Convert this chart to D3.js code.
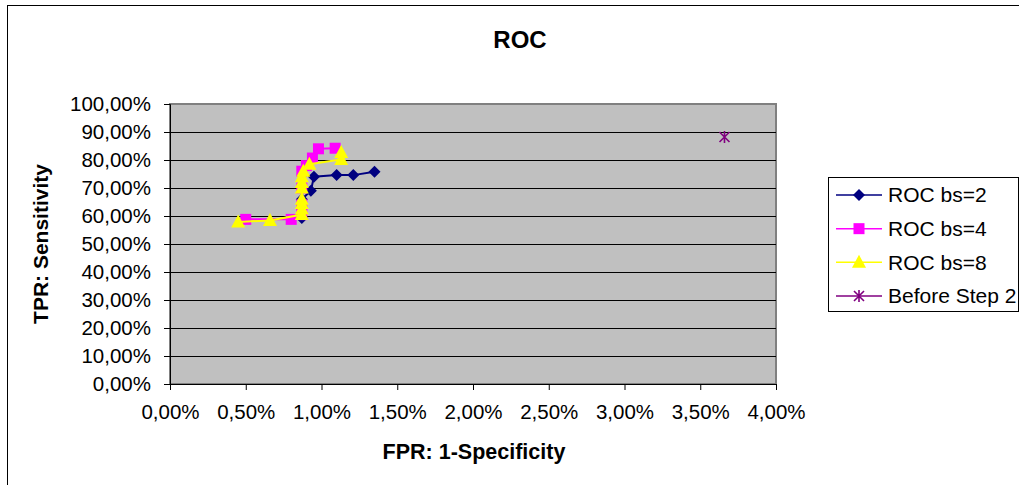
<!DOCTYPE html>
<html>
<head>
<meta charset="utf-8">
<script src="https://cdn.jsdelivr.net/npm/d3@7"></script>
<style>
  html, body { margin: 0; padding: 0; background: #fff; }
  svg { display: block; font-family: "Liberation Sans", Arial, sans-serif; }
</style>
</head>
<body>
<svg id="chart" width="1019" height="485"></svg>
<script>
// ROC curves for three block sizes plus the single point before step 2 (values in %)
const seriesNames = ["ROC bs=2", "ROC bs=4", "ROC bs=8", "Before Step 2"];

const fprBs2 = [0.87, 0.87, 0.87, 0.93, 0.95, 1.10, 1.21, 1.35];
const tprBs2 = [59.3, 63.0, 66.0, 69.0, 74.0, 74.6, 74.6, 75.8];

const fprBs4 = [0.50, 0.80, 0.87, 0.87, 0.87, 0.87, 0.90, 0.94, 0.98, 1.09];
const tprBs4 = [58.8, 58.8, 60.5, 64.0, 70.0, 76.0, 78.0, 80.7, 84.0, 84.2];

const fprBs8 = [0.45, 0.66, 0.87, 0.87, 0.87, 0.87, 0.87, 0.87, 0.87, 0.88, 0.92, 1.13, 1.13];
const tprBs8 = [57.9, 58.4, 60.5, 62.5, 64.5, 66.0, 70.0, 72.0, 74.0, 76.0, 78.5, 80.2, 82.7];

const fprBefore = [3.66];
const tprBefore = [88.2];

const xTicks = [0, 0.5, 1, 1.5, 2, 2.5, 3, 3.5, 4];
const yTicks = [0, 10, 20, 30, 40, 50, 60, 70, 80, 90, 100];

const svg = d3.select("#chart");

// chart frame
svg.append("rect").attr("x", 7.5).attr("y", 5.5).attr("width", 1030).attr("height", 500)
  .attr("fill", "#fff").attr("stroke", "#000").attr("stroke-width", 1);

const plot = { left: 170, top: 104, right: 776, bottom: 384 };
const x = d3.scaleLinear().domain([0, 4]).range([plot.left, plot.right]);
const y = d3.scaleLinear().domain([0, 100]).range([plot.bottom, plot.top]);

const loc = d3.formatLocale({ decimal: ",", thousands: ".", grouping: [3], currency: ["", "€"] });
const pct = v => loc.format(".2f")(v) + "%";

// plot area background
svg.append("rect")
  .attr("x", plot.left).attr("y", plot.top)
  .attr("width", plot.right - plot.left).attr("height", plot.bottom - plot.top)
  .attr("fill", "#c0c0c0").attr("stroke", "#808080").attr("stroke-width", 2);

// horizontal gridlines
svg.append("g").selectAll("line").data(yTicks.filter(t => t > 0 && t < 100)).join("line")
  .attr("x1", plot.left).attr("x2", plot.right)
  .attr("y1", d => Math.round(y(d)) + 0.5).attr("y2", d => Math.round(y(d)) + 0.5)
  .attr("stroke", "#000").attr("stroke-width", 1);

// axes
const yAxis = svg.append("g").attr("transform", `translate(${plot.left},0)`)
  .call(d3.axisLeft(y).tickValues(yTicks).tickFormat(pct).tickSize(6).tickPadding(13));
const xAxis = svg.append("g").attr("transform", `translate(0,${plot.bottom})`)
  .call(d3.axisBottom(x).tickValues(xTicks).tickFormat(pct).tickSize(6).tickPadding(14));
[yAxis, xAxis].forEach(g => {
  g.select(".domain").attr("stroke", "#000").attr("stroke-width", 1);
  g.selectAll(".tick line").attr("stroke", "#000");
  g.selectAll("text").attr("fill", "#000").style("font-size", "20.5px")
    .style("font-family", "'Liberation Sans', Arial, sans-serif");
});

// titles
svg.append("text").attr("x", 520).attr("y", 48).attr("text-anchor", "middle")
  .style("font-size", "24px").style("font-weight", "bold").text("ROC");
svg.append("text").attr("x", 474).attr("y", 459).attr("text-anchor", "middle")
  .style("font-size", "21.5px").style("font-weight", "bold").text("FPR: 1-Specificity");
svg.append("text").attr("transform", "translate(48,244) rotate(-90)").attr("text-anchor", "middle")
  .style("font-size", "21px").style("font-weight", "bold").text("TPR: Sensitivity");

// series
const series = [
  { name: seriesNames[0], xs: fprBs2, ys: tprBs2, color: "#000080", marker: "diamond" },
  { name: seriesNames[1], xs: fprBs4, ys: tprBs4, color: "#ff00ff", marker: "square" },
  { name: seriesNames[2], xs: fprBs8, ys: tprBs8, color: "#ffff00", marker: "triangle" },
  { name: seriesNames[3], xs: fprBefore, ys: tprBefore, color: "#800080", marker: "star" }
];

function drawMarker(g, type, color) {
  if (type === "diamond") {
    g.append("path").attr("d", "M0,-6L6,0L0,6L-6,0Z").attr("fill", color);
  } else if (type === "square") {
    g.append("rect").attr("x", -5.5).attr("y", -5.5).attr("width", 11).attr("height", 11).attr("fill", color);
  } else if (type === "triangle") {
    g.append("path").attr("d", "M0,-7.5L7,5.5L-7,5.5Z").attr("fill", color);
  } else if (type === "star") {
    g.append("path").attr("d", "M-5,-5L5,5M-5,5L5,-5M0,-6L0,6")
      .attr("stroke", color).attr("stroke-width", 1.6).attr("fill", "none");
  }
}

const line = d3.line().x(d => x(d[0])).y(d => y(d[1]));
series.forEach(s => {
  const pts = s.xs.map((v, i) => [v, s.ys[i]]);
  const g = svg.append("g");
  if (pts.length > 1) {
    g.append("path").datum(pts).attr("d", line)
      .attr("fill", "none").attr("stroke", s.color).attr("stroke-width", 2);
  }
  g.selectAll("g.pt").data(pts).join("g").attr("class", "pt")
    .attr("transform", d => `translate(${x(d[0])},${y(d[1])})`)
    .each(function () { drawMarker(d3.select(this), s.marker, s.color); });
});

// legend
const legend = svg.append("g");
legend.append("rect").attr("x", 828.5).attr("y", 177.5).attr("width", 190).attr("height", 134)
  .attr("fill", "#fff").attr("stroke", "#000").attr("stroke-width", 1);
const ly = d3.scalePoint().domain(seriesNames).range([195, 296]);
series.forEach(s => {
  const row = legend.append("g").attr("transform", `translate(0,${ly(s.name)})`);
  row.append("line").attr("x1", 836).attr("x2", 882).attr("y1", 0).attr("y2", 0)
    .attr("stroke", s.color).attr("stroke-width", 1.5);
  const m = row.append("g").attr("transform", "translate(859,0)");
  drawMarker(m, s.marker, s.color);
  row.append("text").attr("x", 888).attr("y", 0).attr("dy", "0.35em")
    .style("font-size", "21px").text(s.name);
});
</script>
</body>
</html>
